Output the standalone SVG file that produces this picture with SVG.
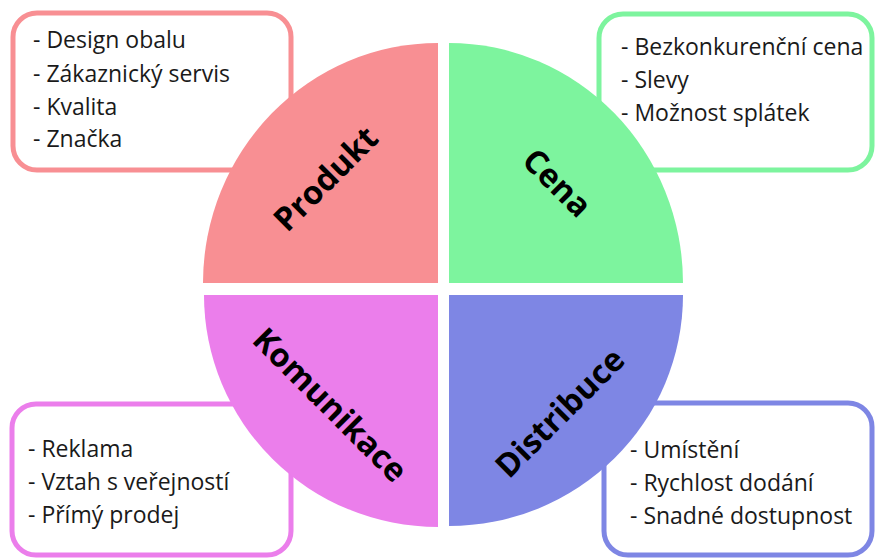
<svg xmlns="http://www.w3.org/2000/svg" width="875" height="559" viewBox="0 0 875 559">
<style>
.box{fill:#fff;stroke-width:5}
.item{font-family:"Open Sans","Noto Sans",sans-serif;font-size:23px;fill:#1a1a1a}
.lbl{font-family:"Open Sans","Noto Sans",sans-serif;font-size:32.5px;font-weight:bold;fill:#000}
</style>
<rect width="875" height="559" fill="#fff"/>
<g id="box-produkt"><rect class="box" x="13" y="13" width="278" height="157" rx="24" stroke="#F88F93"/></g>
<g id="box-cena"><rect class="box" x="599" y="14" width="273" height="156" rx="24" stroke="#7DF49E"/></g>
<g id="box-komunikace"><rect class="box" x="12" y="404" width="279" height="151" rx="24" stroke="#EB7EEB"/></g>
<g id="box-distribuce"><rect class="box" x="604" y="403" width="268" height="152" rx="24" stroke="#7E86E4"/></g>
<g id="produkt">
<path d="M438,283 L203,283 A235,240 0 0 1 438,43 Z" fill="#F88F93"/>
<text class="lbl" text-anchor="middle" dominant-baseline="central" transform="translate(325,178) rotate(-45)">Produkt</text>
</g>
<g id="cena">
<path d="M449,283 L449,43 A234,240 0 0 1 683,283 Z" fill="#7DF49E"/>
<text class="lbl" text-anchor="middle" dominant-baseline="central" transform="translate(558,182) rotate(45)">Cena</text>
</g>
<g id="komunikace">
<path d="M438,295 L438,527 A234,232 0 0 1 204,295 Z" fill="#EB7EEB"/>
<text class="lbl" text-anchor="middle" dominant-baseline="central" transform="translate(331,404) rotate(45)">Komunikace</text>
</g>
<g id="distribuce">
<path d="M449,295 L683,295 A234,231 0 0 1 449,526 Z" fill="#7E86E4"/>
<text class="lbl" text-anchor="middle" dominant-baseline="central" transform="translate(559,412) rotate(-45)">Distribuce</text>
</g>
<g id="text-produkt">
<text class="item" x="33" y="48">- Design obalu</text>
<text class="item" x="33" y="82">- Zákaznický servis</text>
<text class="item" x="33" y="115">- Kvalita</text>
<text class="item" x="33" y="147">- Značka</text>
</g>
<g id="text-cena">
<text class="item" x="621" y="55">- Bezkonkurenční cena</text>
<text class="item" x="621" y="88">- Slevy</text>
<text class="item" x="621" y="121">- Možnost splátek</text>
</g>
<g id="text-komunikace">
<text class="item" x="28" y="457">- Reklama</text>
<text class="item" x="28" y="490">- Vztah s veřejností</text>
<text class="item" x="28" y="523">- Přímý prodej</text>
</g>
<g id="text-distribuce">
<text class="item" x="630" y="458">- Umístění</text>
<text class="item" x="630" y="491">- Rychlost dodání</text>
<text class="item" x="630" y="524">- Snadné dostupnost</text>
</g>
<g id="connectors"></g>
</svg>
